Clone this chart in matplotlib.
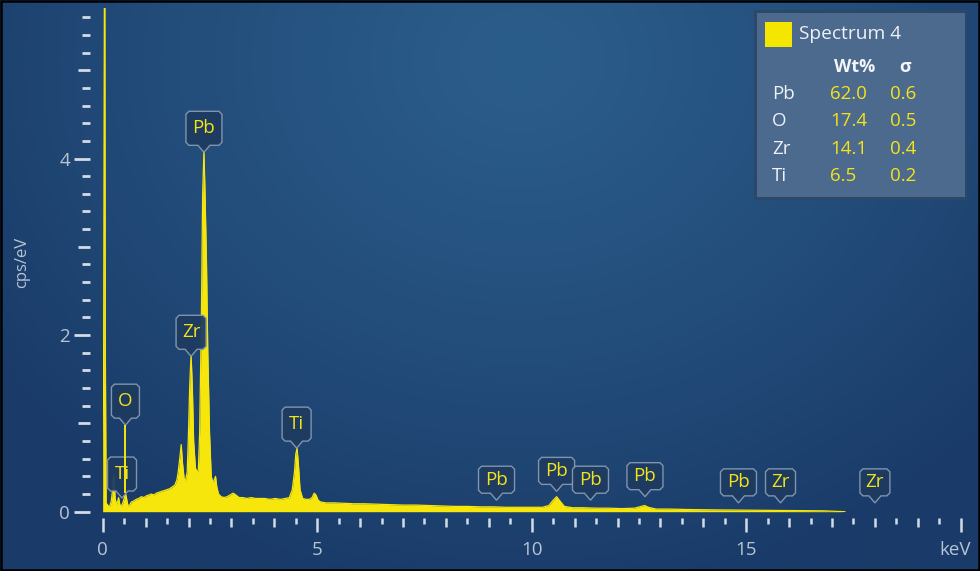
import matplotlib
matplotlib.use('Agg')
import matplotlib.pyplot as plt
import numpy as np
from matplotlib.path import Path
from matplotlib.patches import PathPatch, Rectangle
from matplotlib.transforms import Affine2D, ScaledTranslation
from matplotlib.ticker import FixedLocator

plt.rcParams['font.family'] = ['Open Sans', 'DejaVu Sans']

# ---------------- data ----------------
energy = [0.00, 0.02, 0.04, 0.05, 0.06, 0.08, 0.12, 0.16, 0.20, 0.23, 0.26, 0.29,
          0.32, 0.35, 0.37, 0.40, 0.43, 0.47, 0.50, 0.53, 0.56, 0.59, 0.63, 0.67,
          0.72, 0.78, 0.84, 0.90, 0.96, 1.02, 1.08, 1.13, 1.19, 1.25, 1.31, 1.37,
          1.44, 1.50, 1.56, 1.62, 1.68, 1.73, 1.76, 1.80, 1.83, 1.86, 1.90, 1.93,
          1.97, 2.00, 2.03, 2.06, 2.09, 2.12, 2.16, 2.20, 2.23, 2.26, 2.30, 2.33,
          2.36, 2.39, 2.42, 2.45, 2.49, 2.53, 2.57, 2.60, 2.63, 2.66, 2.70, 2.76,
          2.83, 2.90, 2.97, 3.04, 3.10, 3.18, 3.27, 3.36, 3.46, 3.56, 3.66, 3.78,
          3.90, 4.02, 4.14, 4.26, 4.35, 4.42, 4.47, 4.50, 4.53, 4.56, 4.60, 4.66,
          4.74, 4.82, 4.88, 4.93, 4.97, 5.02, 5.08, 5.20, 5.40, 5.60, 5.85, 6.10,
          6.40, 6.70, 7.00, 7.30, 7.60, 7.90, 8.20, 8.50, 8.80, 9.10, 9.40, 9.70,
          10.00, 10.25, 10.40, 10.50, 10.58, 10.66, 10.76, 10.95, 11.20, 11.50,
          11.80, 12.10, 12.40, 12.55, 12.63, 12.72, 12.90, 13.20, 13.60, 14.00,
          14.40, 14.80, 15.20, 15.60, 16.00, 16.40, 16.80, 17.30]
cps = [0.00, 1.50, 6.00, 6.00, 2.00, 0.10, 0.07, 0.06, 0.12, 0.25, 0.42, 0.15,
       0.08, 0.12, 0.16, 0.08, 0.06, 0.10, 0.15, 0.21, 0.14, 0.06, 0.08, 0.11,
       0.12, 0.14, 0.15, 0.17, 0.16, 0.18, 0.19, 0.20, 0.19, 0.21, 0.22, 0.23,
       0.24, 0.25, 0.26, 0.28, 0.30, 0.36, 0.45, 0.62, 0.76, 0.55, 0.37, 0.35,
       0.45, 0.90, 1.45, 1.78, 1.40, 0.80, 0.50, 0.44, 0.48, 0.90, 2.20, 3.60,
       4.10, 3.50, 2.80, 1.80, 0.90, 0.40, 0.33, 0.36, 0.40, 0.28, 0.20, 0.17,
       0.16, 0.17, 0.19, 0.21, 0.19, 0.16, 0.16, 0.15, 0.16, 0.15, 0.15, 0.15,
       0.14, 0.15, 0.14, 0.15, 0.16, 0.25, 0.45, 0.65, 0.72, 0.55, 0.25, 0.15,
       0.14, 0.14, 0.16, 0.21, 0.19, 0.13, 0.11, 0.10, 0.10, 0.095, 0.09, 0.09,
       0.085, 0.08, 0.075, 0.075, 0.07, 0.065, 0.06, 0.06, 0.055, 0.055, 0.05, 0.05,
       0.05, 0.05, 0.07, 0.13, 0.17, 0.12, 0.06, 0.045, 0.045, 0.04,
       0.04, 0.035, 0.04, 0.06, 0.07, 0.05, 0.03, 0.03, 0.025, 0.022,
       0.02, 0.018, 0.016, 0.015, 0.013, 0.012, 0.010, 0.0]

# peak markers
marker_labels = ['Pb', 'Zr', 'O', 'Ti', 'Ti', 'Pb', 'Pb', 'Pb', 'Pb', 'Pb', 'Zr', 'Zr']
marker_energy = [2.36, 2.06, 0.53, 0.45, 4.52, 9.18, 10.58, 11.37, 12.64, 14.82, 15.80, 18.00]
marker_tip = [4.07, 1.76, 0.98, 0.155, 0.72, 0.13, 0.23, 0.13, 0.17, 0.10, 0.10, 0.10]
marker_line_to = [None, None, 0.21, None, None, None, None, None, None, None, None, None]

# quantification table
quant_elements = ['Pb', 'O', 'Zr', 'Ti']
quant_wt = ['62.0', '17.4', '14.1', '6.5']
quant_sigma = ['0.6', '0.5', '0.4', '0.2']
spectrum_name = 'Spectrum 4'

# ---------------- style ----------------
W, H = 980, 571
YEL = '#f6e60c'
TXT_YEL = '#f5e31a'
TICK_C = '#d3dbe5'
LAB_C = '#b7c4d4'

fig = plt.figure(figsize=(W / 100, H / 100), dpi=100)

# background gradient
bg = fig.add_axes([0, 0, 1, 1], zorder=0)
yy, xx = np.mgrid[0:H, 0:W]
r = np.sqrt(((xx - 520) / 640.0) ** 2 + ((yy - 60) / 540.0) ** 2)
r = np.clip(r, 0, 1) ** 1.2
c0 = np.array([0x2b, 0x5d, 0x8b]) / 255.0
c1 = np.array([0x1a, 0x3b, 0x69]) / 255.0
img = c0[None, None, :] * (1 - r[..., None]) + c1[None, None, :] * r[..., None]
bg.imshow(img, extent=[0, W, H, 0], aspect='auto', interpolation='bilinear')
bg.set_axis_off()

# main axes
x0_px, y0_px = 102.7, 511.7
px_per_kev, px_per_unit = 42.9, 88.3
xmax, ymax = 20.1, 5.7
ax = fig.add_axes([x0_px / W, (H - y0_px) / H, xmax * px_per_kev / W, ymax * px_per_unit / H], zorder=1)
ax.patch.set_alpha(0)
ax.set_xlim(0, xmax)
ax.set_ylim(0, ymax)
for s in ax.spines.values():
    s.set_visible(False)
ax.spines['bottom'].set_position(('outward', 4.3))
ax.spines['left'].set_position(('outward', 9.0))

ax.fill_between(energy, cps, 0, color=YEL, lw=0, zorder=3)
ax.plot(energy, cps, color=YEL, lw=0.9, zorder=3)

# ticks
xmaj = list(range(0, 21))
ax.xaxis.set_major_locator(FixedLocator(xmaj))
ax.xaxis.set_minor_locator(FixedLocator([i + 0.5 for i in range(20)]))
ax.set_xticklabels([str(v) if v % 5 == 0 and v < 20 else '' for v in xmaj])
ax.tick_params(axis='x', which='major', length=10, width=1.8, color=TICK_C,
               labelcolor=LAB_C, labelsize=13.5, pad=6.5, direction='out')
ax.tick_params(axis='x', which='minor', length=4.3, width=1.8, color=TICK_C, direction='out')
for v, t in zip(xmaj, ax.xaxis.get_major_ticks()):
    if v % 5 != 0:
        t.tick1line.set_markersize(6.5)

ymaj = list(range(0, 6))
ax.yaxis.set_major_locator(FixedLocator(ymaj))
ax.yaxis.set_minor_locator(FixedLocator([round(0.2 * i, 1) for i in range(29) if i % 5 != 0]))
ax.set_yticklabels([str(v) if v % 2 == 0 else '' for v in ymaj])
ax.tick_params(axis='y', which='major', length=11.5, width=2.0, color=TICK_C,
               labelcolor=LAB_C, labelsize=13.5, pad=3, direction='out')
ax.tick_params(axis='y', which='minor', length=5.8, width=2.0, color=TICK_C, direction='out')
for v, t in zip(ymaj, ax.yaxis.get_major_ticks()):
    if v % 2 != 0:
        t.tick1line.set_markersize(8.6)

fig.text(22 / W, 1 - 262 / H, 'cps/eV', rotation=90, ha='center', va='center',
         fontsize=12, color=LAB_C)
fig.text(955 / W, 1 - 550 / H, 'keV', ha='center', va='center', fontsize=13.5, color=LAB_C)


# callout markers
def callout(x, y, text, w, h, ph=7, pw=6, r=3):
    verts = [(0, 0), (pw, ph), (w / 2 - r, ph), (w / 2, ph + r), (w / 2, ph + h - r),
             (w / 2 - r, ph + h), (-w / 2 + r, ph + h), (-w / 2, ph + h - r),
             (-w / 2, ph + r), (-w / 2 + r, ph), (-pw, ph), (0, 0)]
    codes = [Path.MOVETO] + [Path.LINETO] * (len(verts) - 2) + [Path.CLOSEPOLY]
    tr = Affine2D() + ScaledTranslation(x, y, ax.transData)
    p = PathPatch(Path(verts, codes), facecolor='#1e3b61', edgecolor='#8699b0',
                  lw=1.0, alpha=0.95, transform=tr, clip_on=False, zorder=6)
    ax.add_patch(p)
    ax.annotate(text, xy=(x, y), xytext=(0, (ph + h / 2) * 0.72), textcoords='offset points',
                ha='center', va='center', color=TXT_YEL, fontsize=13.5, zorder=7)


sizes = {'Pb': 36, 'Zr': 30, 'O': 28, 'Ti': 29}
for lab, e, tip, lt in zip(marker_labels, marker_energy, marker_tip, marker_line_to):
    h = 34 if tip > 0.5 or lab in ('O',) or (lab == 'Ti' and e < 1) else 27
    if lt is not None:
        ax.plot([e, e], [lt, tip], color=YEL, lw=1.4, zorder=8, solid_capstyle='butt')
    callout(e, tip, lab, sizes[lab], h)

# overlay for legend / frame (pixel coords, origin top-left)
ov = fig.add_axes([0, 0, 1, 1], zorder=10)
ov.set_xlim(0, W)
ov.set_ylim(H, 0)
ov.set_axis_off()
ov.patch.set_alpha(0)

ov.add_patch(Rectangle((754, 10), 213, 190, facecolor='#2c4768', edgecolor='none'))
ov.add_patch(Rectangle((757, 13), 208, 184, facecolor='#4b6a8d', edgecolor='none'))
ov.add_patch(Rectangle((765, 22), 27, 25, facecolor='#f5e600', edgecolor='none'))
ov.text(799, 34, spectrum_name, ha='left', va='center', fontsize=13.8, color='#eef2f7')
ov.text(855, 67, 'Wt%', ha='center', va='center', fontsize=13, fontweight='bold', color='#f2f5f9')
ov.text(905, 67, 'σ', ha='center', va='center', fontsize=13, fontweight='bold', color='#f2f5f9')
for i, (el, wv, sv) in enumerate(zip(quant_elements, quant_wt, quant_sigma)):
    yrow = 94 + i * 27.3
    ov.text(772, yrow, el, ha='left', va='center', fontsize=13.5, color='#eef2f7')
    ov.text(830, yrow, wv, ha='left', va='center', fontsize=13.5, color=TXT_YEL)
    ov.text(890, yrow, sv, ha='left', va='center', fontsize=13.5, color=TXT_YEL)

ov.add_patch(Rectangle((1, 1), W - 2, H - 2, facecolor='none', edgecolor='black', lw=1.8))

fig.savefig('out.png', dpi=100)
